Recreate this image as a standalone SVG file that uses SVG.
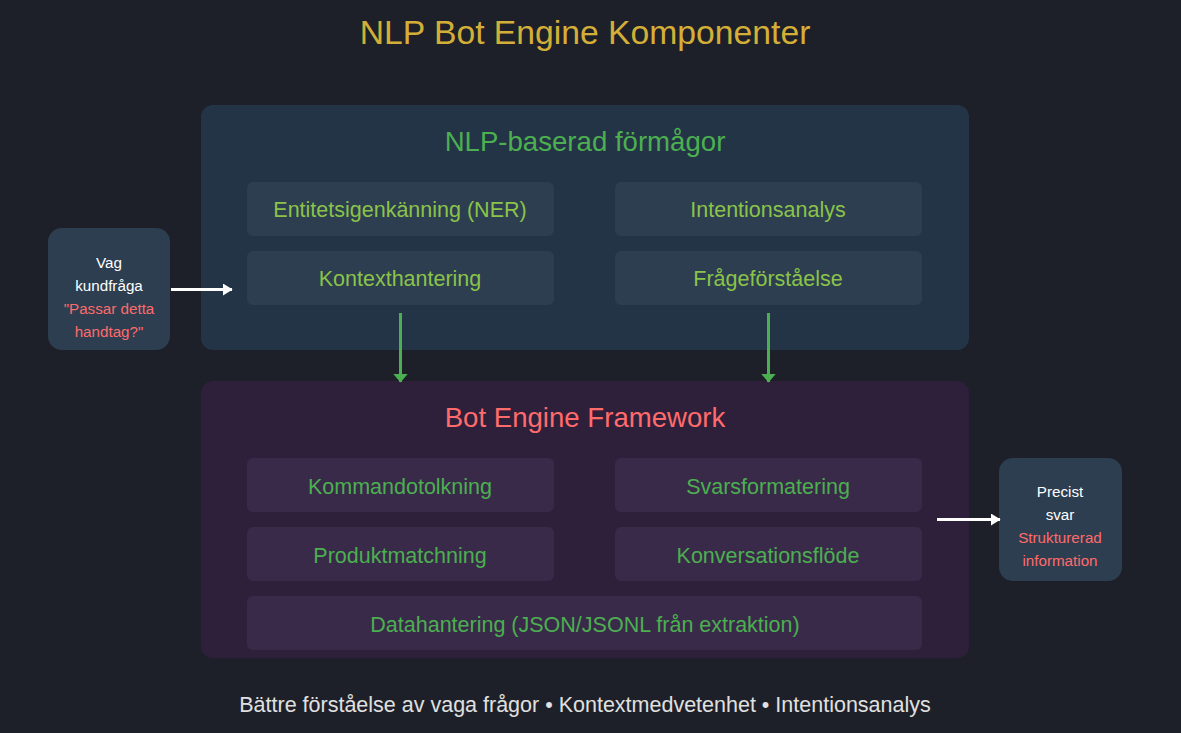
<svg xmlns="http://www.w3.org/2000/svg" width="1181" height="733" viewBox="0 0 1181 733">
<defs>
<style>
text{font-family:"Liberation Sans",Arial,sans-serif;text-anchor:middle}
.title{font-size:33.7px;fill:#d4af37}
.sec{font-size:27.6px}
.nlpbox{fill:#2c3e50}
.botbox{fill:#3a2a4a}
.nlpt{font-size:21.5px;fill:#8bc34a}
.bott{font-size:21.5px;fill:#4caf50}
.io{fill:#2c3e50}
.w{font-size:15.2px;fill:#ffffff}
.r{font-size:15.2px;fill:#ff6b6b}
.g{stroke:#4caf50;stroke-width:3;fill:none}
.wh{stroke:#ffffff;stroke-width:3;fill:none}
</style>
<marker id="ag" markerWidth="3" markerHeight="5" refX="2.8" refY="2.5" orient="auto" markerUnits="strokeWidth"><path d="M0,0 L3,2.5 L0,5 Z" fill="#4caf50"/></marker>
<marker id="aw" markerWidth="3.2" markerHeight="4" refX="3" refY="2" orient="auto" markerUnits="strokeWidth"><path d="M0,0 L3.2,2 L0,4 Z" fill="#ffffff"/></marker>
</defs>
<rect width="1181" height="733" fill="#1e2029"/>
<text class="title" x="585" y="44">NLP Bot Engine Komponenter</text>

<g id="nlp">
<rect x="201" y="105" width="768" height="245" rx="12" fill="#243447"/>
<text class="sec" x="585" y="151" fill="#4caf50">NLP-baserad förmågor</text>
</g>
<g id="ner"><rect class="nlpbox" x="247" y="182" width="307" height="54" rx="6"/><text class="nlpt" x="400" y="217">Entitetsigenkänning (NER)</text></g>
<g id="intention"><rect class="nlpbox" x="615" y="182" width="307" height="54" rx="6"/><text class="nlpt" x="768" y="217">Intentionsanalys</text></g>
<g id="kontext"><rect class="nlpbox" x="247" y="251" width="307" height="54" rx="6"/><text class="nlpt" x="400" y="286">Kontexthantering</text></g>
<g id="fraga"><rect class="nlpbox" x="615" y="251" width="307" height="54" rx="6"/><text class="nlpt" x="768" y="286">Frågeförståelse</text></g>

<g id="bot">
<rect x="201" y="381" width="768" height="277" rx="12" fill="#2e1f3b"/>
<text class="sec" x="585" y="427" fill="#ff6b6b">Bot Engine Framework</text>
</g>
<g id="kommando"><rect class="botbox" x="247" y="458" width="307" height="54" rx="6"/><text class="bott" x="400" y="494">Kommandotolkning</text></g>
<g id="svars"><rect class="botbox" x="615" y="458" width="307" height="54" rx="6"/><text class="bott" x="768" y="494">Svarsformatering</text></g>
<g id="produkt"><rect class="botbox" x="247" y="527" width="307" height="54" rx="6"/><text class="bott" x="400" y="563">Produktmatchning</text></g>
<g id="konv"><rect class="botbox" x="615" y="527" width="307" height="54" rx="6"/><text class="bott" x="768" y="563">Konversationsflöde</text></g>
<g id="data"><rect class="botbox" x="247" y="596" width="675" height="54" rx="6"/><text class="bott" x="585" y="632">Datahantering (JSON/JSONL från extraktion)</text></g>

<g id="input">
<rect class="io" x="48" y="228" width="122" height="122" rx="14"/>
<text class="w" x="109" y="268">Vag</text>
<text class="w" x="109" y="291">kundfråga</text>
<text class="r" x="109" y="314">"Passar detta</text>
<text class="r" x="109" y="337">handtag?"</text>
</g>
<g id="output">
<rect class="io" x="999" y="458" width="123" height="123" rx="14"/>
<text class="w" x="1060" y="497">Precist</text>
<text class="w" x="1060" y="520">svar</text>
<text class="r" x="1060" y="543">Strukturerad</text>
<text class="r" x="1060" y="566">information</text>
</g>

<g id="connectors">
<line class="wh" x1="171" y1="289.5" x2="232" y2="289.5" marker-end="url(#aw)"/>
<line class="g" x1="400.5" y1="313" x2="400.5" y2="382" marker-end="url(#ag)"/>
<line class="g" x1="768.5" y1="313" x2="768.5" y2="382" marker-end="url(#ag)"/>
<line class="wh" x1="937" y1="519.5" x2="1000" y2="519.5" marker-end="url(#aw)"/>
</g>

<text x="585" y="712" font-size="21.5" fill="#e0e0e0">Bättre förståelse av vaga frågor • Kontextmedvetenhet • Intentionsanalys</text>
</svg>
